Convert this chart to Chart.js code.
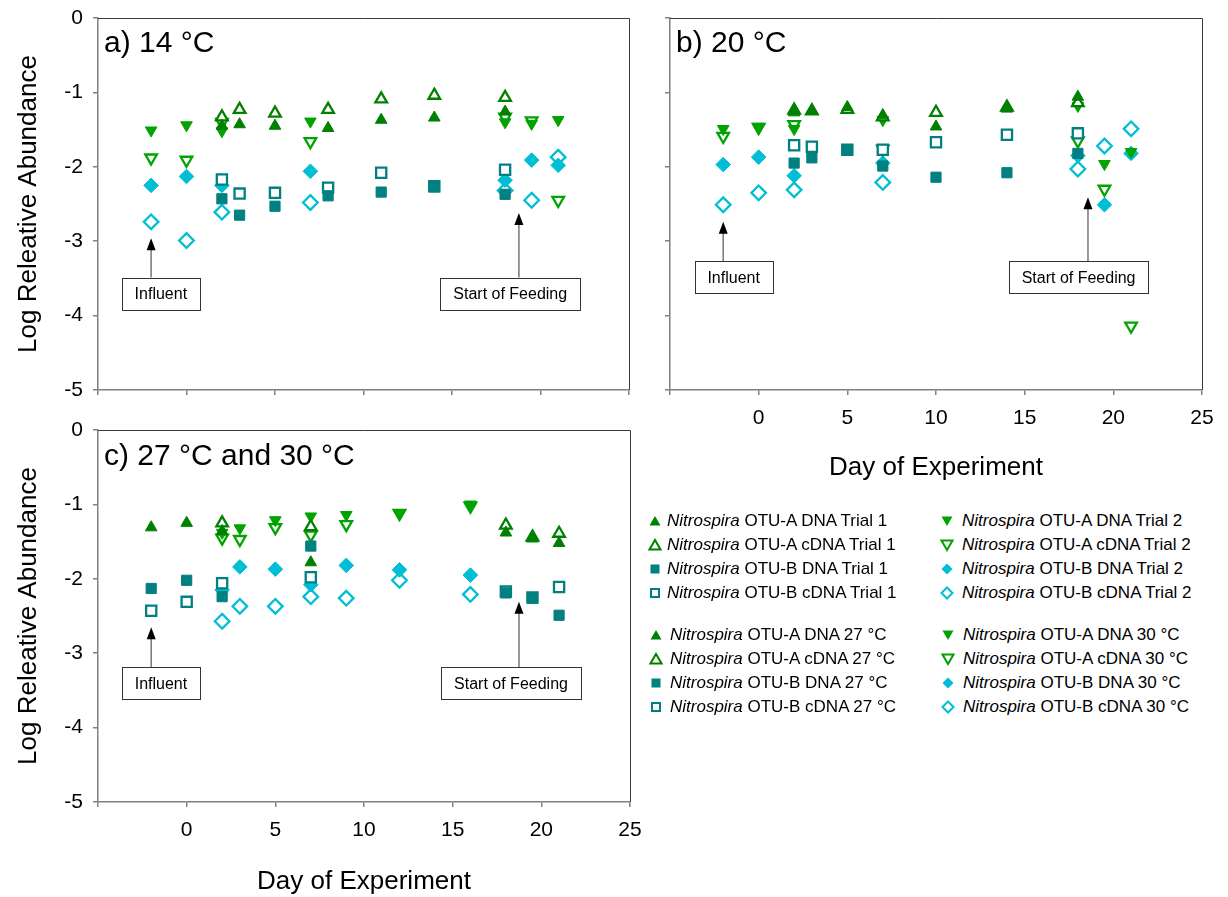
<!DOCTYPE html>
<html><head><meta charset="utf-8">
<script src="https://cdn.jsdelivr.net/npm/chart.js@4.4.0/dist/chart.umd.min.js"></script>
<style>
body{margin:0;background:#fff;width:1228px;height:897px;overflow:hidden;position:relative;font-family:"Liberation Sans",Arial,sans-serif;}
canvas{position:absolute;}
.row{position:absolute;font-size:17px;line-height:20px;height:20px;white-space:nowrap;color:#000;}
.row i{font-style:italic}
.mk{position:absolute;}
</style></head><body>
<canvas id="cc" width="660" height="497" style="left:0;top:400px"></canvas>
<canvas id="ca" width="640" height="425" style="left:0;top:-10px"></canvas>
<canvas id="cb" width="588" height="495" style="left:640px;top:-10px"></canvas>
<div id="legend"></div>
<script>
// ---------- DATA ----------
// Panel a) 14 °C
const dayA_T1 = [2, 3, 5, 8, 11, 14, 18];
const dayA_T2 = [-2, 0, 2, 7, 18, 19.5, 21];
const a_otuA_dna_t1  = [-1.45, -1.43, -1.45, -1.48, -1.37, -1.34, -1.26];
const a_otuA_cdna_t1 = [-1.33, -1.23, -1.28, -1.23, -1.09, -1.04, -1.07];
const a_otuB_dna_t1  = [-2.43, -2.65, -2.53, -2.39, -2.34, -2.27, -2.37];
const a_otuB_cdna_t1 = [-2.17, -2.36, -2.35, -2.28, -2.08, -2.26, -2.04];
const a_otuA_dna_t2  = [-1.51, -1.44, -1.52, -1.39, -1.40, -1.42, -1.37];
const a_otuA_cdna_t2 = [-1.88, -1.91, -1.40, -1.66, -1.33, -1.38, -2.45];
const a_otuB_dna_t2  = [-2.25, -2.13, -2.25, -2.06, -2.18, -1.91, -1.98];
const a_otuB_cdna_t2 = [-2.74, -2.99, -2.61, -2.48, -2.32, -2.45, -1.87];

// Panel b) 20 °C
const dayB_T1 = [2, 3, 5, 7, 10, 14, 18];
const dayB_T2 = [-2, 0, 2, 7, 18, 19.5, 21];
const b_otuA_dna_t1  = [-1.27, -1.24, -1.20, -1.31, -1.46, -1.22, -1.06];
const b_otuA_cdna_t1 = [-1.24, -1.25, -1.23, -1.33, -1.27, -1.20, -1.14];
const b_otuB_dna_t1  = [-1.95, -1.88, -1.77, -1.99, -2.14, -2.08, -1.82];
const b_otuB_cdna_t1 = [-1.71, -1.73, -1.77, -1.77, -1.67, -1.57, -1.55];
const b_otuA_dna_t2  = [-1.49, -1.46, -1.49, -1.37, -1.18, -1.96, -1.80];
const b_otuA_cdna_t2 = [-1.59, -1.47, -1.43, -1.76, -1.65, -2.30, -4.14];
const b_otuB_dna_t2  = [-1.97, -1.87, -2.12, -1.95, -1.85, -2.51, -1.82];
const b_otuB_cdna_t2 = [-2.51, -2.35, -2.31, -2.21, -2.03, -1.72, -1.49];

// Panel c) 27 °C and 30 °C
const dayC_27 = [-2, 0, 2, 7, 18, 19.5, 21];
const dayC_30 = [2, 3, 5, 7, 9, 12, 16];
const c_otuA_dna_27  = [-1.31, -1.25, -1.36, -1.78, -1.38, -1.46, -1.52];
const c_otuA_cdna_27 = [null, null, -1.25, -1.30, -1.28, -1.44, -1.39];
const c_otuB_dna_27  = [-2.13, -2.02, -2.24, -1.56, -2.19, -2.26, -2.49];
const c_otuB_cdna_27 = [-2.43, -2.31, -2.06, -1.98, -2.17, -2.25, -2.11];
const c_otuA_dna_30  = [-1.38, -1.32, -1.21, -1.16, -1.14, -1.13, -1.00];
const c_otuA_cdna_30 = [-1.45, -1.47, -1.31, -1.41, -1.27, -1.12, -1.02];
const c_otuB_dna_30  = [-2.15, -1.84, -1.87, -2.08, -1.82, -1.88, -1.95];
const c_otuB_cdna_30 = [-2.57, -2.37, -2.37, -2.24, -2.26, -2.02, -2.21];

// Axis ticks
const xTickStep = 5, xMin = -5, xMax = 25;
const yMin = -5, yMax = 0, yTickStep = 1;

const legendTrials = [
  'OTU-A DNA Trial 1','OTU-A cDNA Trial 1','OTU-B DNA Trial 1','OTU-B cDNA Trial 1',
  'OTU-A DNA Trial 2','OTU-A cDNA Trial 2','OTU-B DNA Trial 2','OTU-B cDNA Trial 2'];
const legendTemps = [
  'OTU-A DNA 27 °C','OTU-A cDNA 27 °C','OTU-B DNA 27 °C','OTU-B cDNA 27 °C',
  'OTU-A DNA 30 °C','OTU-A cDNA 30 °C','OTU-B DNA 30 °C','OTU-B cDNA 30 °C'];

// ---------- STYLES ----------
const FONT = '"Liberation Sans", Arial, sans-serif';
Chart.defaults.font.family = FONT;
const C_A1 = '#008000', C_B1 = '#008080', C_A2 = '#00A300', C_B2 = '#00BED4';
const STY = [
  {c:C_A1, s:'triangle', rot:0,   r:6.7, f:true},
  {c:C_A1, s:'triangle', rot:0,   r:6.7, f:false},
  {c:C_B1, s:'rect',     rot:0,   r:7.2, f:true},
  {c:C_B1, s:'rect',     rot:0,   r:7.2, f:false},
  {c:C_A2, s:'triangle', rot:180, r:6.7, f:true},
  {c:C_A2, s:'triangle', rot:180, r:6.7, f:false},
  {c:C_B2, s:'rectRot',  rot:0,   r:7.3, f:true},
  {c:C_B2, s:'rectRot',  rot:0,   r:7.3, f:false}
];

function ds(label, days, vals, st){
  return {
    label,
    data: days.map((d,i)=>({x:d, y:vals[i]})).filter(p=>p.y!==null),
    pointStyle: st.s, pointRotation: st.rot, pointRadius: st.r,
    pointBackgroundColor: st.f ? st.c : '#ffffff',
    pointBorderColor: st.c, pointBorderWidth: st.f ? 1 : 2.3,
    showLine:false
  };
}

const annotations = {
  a: [
    {text:'Influent', day:-2, tip:-2.96, boxL:-3.65, boxR:0.75, boxT:-3.49, boxB:-3.92},
    {text:'Start of Feeding', day:18.78, tip:-2.62, boxL:14.34, boxR:22.24, boxT:-3.49, boxB:-3.92}
  ],
  b: [
    {text:'Influent', day:-2, tip:-2.74, boxL:-3.61, boxR:0.79, boxT:-3.27, boxB:-3.70},
    {text:'Start of Feeding', day:18.57, tip:-2.41, boxL:14.12, boxR:21.96, boxT:-3.27, boxB:-3.70}
  ],
  c: [
    {text:'Influent', day:-2, tip:-2.65, boxL:-3.65, boxR:0.75, boxT:-3.19, boxB:-3.62},
    {text:'Start of Feeding', day:18.74, tip:-2.31, boxL:14.34, boxR:22.24, boxT:-3.19, boxB:-3.62}
  ]
};

function decoPlugin(label, labelDy, annos){
  return {
    id:'deco',
    afterDatasetsDraw(chart){
      const {ctx, chartArea:ca, scales:{x, y}} = chart;
      ctx.save();
      // frame top and right
      ctx.strokeStyle = '#3a3a3a'; ctx.lineWidth = 1;
      ctx.beginPath();
      ctx.moveTo(ca.left, ca.top + 0.5); ctx.lineTo(ca.right + 0.5, ca.top + 0.5);
      ctx.lineTo(ca.right + 0.5, ca.bottom);
      ctx.stroke();
      // panel label
      ctx.fillStyle = '#000'; ctx.font = '30px ' + FONT;
      ctx.textBaseline = 'alphabetic'; ctx.textAlign = 'left';
      ctx.fillText(label, ca.left + 6, ca.top + labelDy);
      // annotations
      annos.forEach(an=>{
        const px = x.getPixelForValue(an.day);
        const tipY = y.getPixelForValue(an.tip);
        const bl = x.getPixelForValue(an.boxL), br = x.getPixelForValue(an.boxR);
        const bt = y.getPixelForValue(an.boxT), bb = y.getPixelForValue(an.boxB);
        ctx.strokeStyle = '#777'; ctx.lineWidth = 1.5;
        ctx.beginPath(); ctx.moveTo(px, bt); ctx.lineTo(px, tipY + 10); ctx.stroke();
        ctx.fillStyle = '#000';
        ctx.beginPath(); ctx.moveTo(px, tipY); ctx.lineTo(px - 4.5, tipY + 12); ctx.lineTo(px + 4.5, tipY + 12); ctx.closePath(); ctx.fill();
        ctx.fillStyle = '#fff'; ctx.strokeStyle = '#333'; ctx.lineWidth = 1;
        ctx.fillRect(bl, bt, br - bl, bb - bt);
        ctx.strokeRect(Math.round(bl)+0.5, Math.round(bt)+0.5, Math.round(br-bl), Math.round(bb-bt));
        ctx.fillStyle = '#000'; ctx.font = '16px ' + FONT;
        ctx.textAlign = 'center'; ctx.textBaseline = 'middle';
        ctx.fillText(an.text, (bl+br)/2, (bt+bb)/2 + 1);
      });
      ctx.restore();
    }
  };
}

function makeChart(id, datasets, o){
  const axisCol = '#808080';
  return new Chart(document.getElementById(id), {
    type:'scatter',
    data:{datasets},
    options:{
      responsive:false, animation:false, devicePixelRatio:1,
      layout:{padding:o.pad},
      plugins:{legend:{display:false}, tooltip:{enabled:false}},
      scales:{
        x:{type:'linear', min:xMin, max:xMax,
           ticks:{stepSize:xTickStep, color:'#000', font:{size:21, family:FONT}, padding:11, maxRotation:0,
                  callback:v => (o.xLabels && v !== xMin) ? String(v) : ''},
           grid:{drawOnChartArea:false, drawTicks:true, tickLength:5, color:axisCol, lineWidth:1.5},
           border:{display:true, color:axisCol, width:1.5},
           title:{display:o.xTitle, text:'Day of Experiment', color:'#000', font:{size:26, family:FONT}, padding:{top:0,bottom:o.xTitlePad}},
           afterFit:s=>{s.height = o.xH;}
        },
        y:{type:'linear', min:yMin, max:yMax,
           ticks:{stepSize:yTickStep, color:'#000', font:{size:21, family:FONT}, padding:10,
                  callback:v => o.yLabels ? String(v) : ''},
           grid:{drawOnChartArea:false, drawTicks:true, tickLength:5, color:axisCol, lineWidth:1.5},
           border:{display:true, color:axisCol, width:1.5},
           title:{display:o.yTitle, text:'Log Releative Abundance', color:'#000', font:{size:26, family:FONT}, padding:{top:13,bottom:0}},
           afterFit:s=>{s.width = o.yW;}
        }
      }
    },
    plugins:[decoPlugin(o.label, o.labelDy, o.annos)]
  });
}

const labelsT = legendTrials;
makeChart('ca', [
  ds(labelsT[0], dayA_T1, a_otuA_dna_t1, STY[0]),
  ds(labelsT[1], dayA_T1, a_otuA_cdna_t1, STY[1]),
  ds(labelsT[2], dayA_T1, a_otuB_dna_t1, STY[2]),
  ds(labelsT[3], dayA_T1, a_otuB_cdna_t1, STY[3]),
  ds(labelsT[4], dayA_T2, a_otuA_dna_t2, STY[4]),
  ds(labelsT[5], dayA_T2, a_otuA_cdna_t2, STY[5]),
  ds(labelsT[6], dayA_T2, a_otuB_dna_t2, STY[6]),
  ds(labelsT[7], dayA_T2, a_otuB_cdna_t2, STY[7])
], {pad:{left:0, top:28, right:10, bottom:0}, xH:25, yW:98, xLabels:false, yLabels:true, xTitle:false, yTitle:true, xTitlePad:0,
    label:'a) 14 °C', labelDy:34, annos:annotations.a});

makeChart('cb', [
  ds(labelsT[0], dayB_T1, b_otuA_dna_t1, STY[0]),
  ds(labelsT[1], dayB_T1, b_otuA_cdna_t1, STY[1]),
  ds(labelsT[2], dayB_T1, b_otuB_dna_t1, STY[2]),
  ds(labelsT[3], dayB_T1, b_otuB_cdna_t1, STY[3]),
  ds(labelsT[4], dayB_T2, b_otuA_dna_t2, STY[4]),
  ds(labelsT[5], dayB_T2, b_otuA_cdna_t2, STY[5]),
  ds(labelsT[6], dayB_T2, b_otuB_dna_t2, STY[6]),
  ds(labelsT[7], dayB_T2, b_otuB_cdna_t2, STY[7])
], {pad:{left:0, top:28, right:26, bottom:0}, xH:95, yW:30, xLabels:true, yLabels:false, xTitle:true, yTitle:false, xTitlePad:2,
    label:'b) 20 °C', labelDy:34, annos:annotations.b});

const labelsC = legendTemps;
makeChart('cc', [
  ds(labelsC[0], dayC_27, c_otuA_dna_27, STY[0]),
  ds(labelsC[1], dayC_27, c_otuA_cdna_27, STY[1]),
  ds(labelsC[2], dayC_27, c_otuB_dna_27, STY[2]),
  ds(labelsC[3], dayC_27, c_otuB_cdna_27, STY[3]),
  ds(labelsC[4], dayC_30, c_otuA_dna_30, STY[4]),
  ds(labelsC[5], dayC_30, c_otuA_cdna_30, STY[5]),
  ds(labelsC[6], dayC_30, c_otuB_dna_30, STY[6]),
  ds(labelsC[7], dayC_30, c_otuB_cdna_30, STY[7])
], {pad:{left:0, top:30, right:30, bottom:0}, xH:95, yW:98, xLabels:true, yLabels:true, xTitle:true, yTitle:true, xTitlePad:0,
    label:'c) 27 °C and 30 °C', labelDy:35, annos:annotations.c});

// ---------- LEGEND (HTML) ----------
function markerSVG(st){
  const sw = st.f ? 0 : 2;
  const fill = st.f ? st.c : '#fff';
  let shape;
  if (st.s === 'triangle') {
    const pts = st.rot ? '7,12 12.5,2.5 1.5,2.5' : '7,2 12.5,11.5 1.5,11.5';
    shape = `<polygon points="${pts}" fill="${fill}" stroke="${st.c}" stroke-width="${sw}" stroke-linejoin="miter"/>`;
  } else if (st.s === 'rect') {
    shape = st.f ? `<rect x="2.5" y="2.5" width="9" height="9" fill="${fill}"/>`
                 : `<rect x="3" y="3" width="8" height="8" fill="#fff" stroke="${st.c}" stroke-width="2"/>`;
  } else {
    shape = `<polygon points="7,1.5 12.5,7 7,12.5 1.5,7" fill="${fill}" stroke="${st.c}" stroke-width="${sw}"/>`;
  }
  return `<svg width="14" height="14" viewBox="0 0 14 14">${shape}</svg>`;
}
const leg = document.getElementById('legend');
function addBlock(labels, rowY, colText, colMark){
  labels.forEach((lb, i)=>{
    const col = i < 4 ? 0 : 1;
    const r = i % 4;
    const cy = rowY[r];
    const m = document.createElement('div');
    m.className = 'mk';
    m.style.left = (colMark[col] - 7) + 'px';
    m.style.top = (cy - 7) + 'px';
    m.innerHTML = markerSVG(STY[i]);
    leg.appendChild(m);
    const t = document.createElement('div');
    t.className = 'row';
    t.style.left = colText[col] + 'px';
    t.style.top = (cy - 10) + 'px';
    t.innerHTML = '<i>Nitrospira</i> ' + lb;
    leg.appendChild(t);
  });
}
addBlock(legendTrials, [521, 545, 569, 593], [667, 962], [655, 947]);
addBlock(legendTemps, [635, 659, 683, 707], [670, 963], [656, 948]);
</script>
</body></html>
